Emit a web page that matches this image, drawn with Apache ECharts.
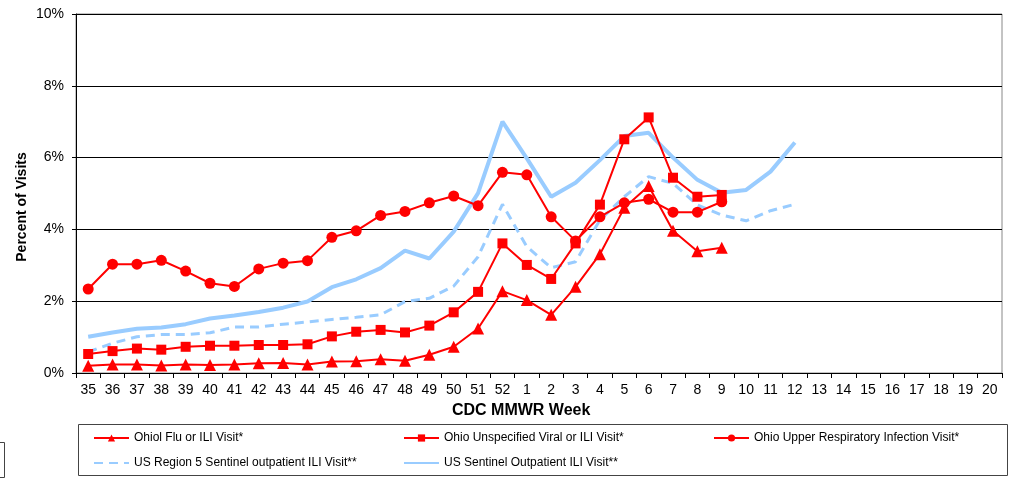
<!DOCTYPE html>
<html>
<head>
<meta charset="utf-8">
<script src="https://cdn.jsdelivr.net/npm/echarts@6/dist/echarts.min.js"></script>
<style>
  html, body { margin: 0; padding: 0; background: #fff; }
  #chart { width: 1012px; height: 479px; }
</style>
</head>
<body>
<div id="chart"></div>
<script>
const font = 'Arial, "Liberation Sans", sans-serif';

// CDC MMWR weeks (season runs 35 -> 52 -> 1 -> 20)
const weeks = ['35', '36', '37', '38', '39', '40', '41', '42', '43', '44', '45', '46', '47', '48', '49', '50', '51', '52',
    '1', '2', '3', '4', '5', '6', '7', '8', '9', '10', '11', '12', '13', '14', '15', '16', '17', '18', '19', '20'];

// percent of visits, weeks 35..9
const ohioFlu = [0.20, 0.24, 0.24, 0.21, 0.24, 0.22, 0.24, 0.27, 0.28, 0.24, 0.32, 0.33, 0.38, 0.34, 0.51, 0.73, 1.24, 2.28,
    2.03, 1.62, 2.40, 3.31, 4.60, 5.21, 3.96, 3.39, 3.49];
const ohioViral = [0.53, 0.61, 0.68, 0.65, 0.73, 0.76, 0.76, 0.78, 0.78, 0.80, 1.02, 1.15, 1.20, 1.13, 1.32, 1.69, 2.26, 3.61,
    3.01, 2.62, 3.61, 4.69, 6.51, 7.12, 5.44, 4.91, 4.96];
const ohioUpperResp = [2.34, 3.03, 3.03, 3.14, 2.84, 2.50, 2.41, 2.90, 3.06, 3.13, 3.78, 3.96, 4.39, 4.50, 4.74, 4.93, 4.66, 5.59,
    5.52, 4.35, 3.68, 4.35, 4.74, 4.84, 4.48, 4.48, 4.77];

// weeks 35..12
const usRegion5 = [0.59, 0.83, 1.01, 1.07, 1.07, 1.12, 1.28, 1.28, 1.36, 1.42, 1.49, 1.55, 1.62, 1.99, 2.08, 2.42, 3.24, 4.70,
    3.52, 2.93, 3.10, 4.26, 4.91, 5.47, 5.28, 4.68, 4.40, 4.24, 4.52, 4.70];
const usSentinel = [1.01, 1.13, 1.23, 1.27, 1.36, 1.52, 1.60, 1.70, 1.82, 1.99, 2.39, 2.61, 2.92, 3.41, 3.19, 3.94, 5.01, 7.00,
    5.98, 4.91, 5.30, 5.93, 6.60, 6.69, 6.00, 5.38, 5.02, 5.10, 5.61, 6.42];

const names = [
    'Ohiol Flu or ILI Visit*',
    'Ohio Unspecified Viral or ILI Visit*',
    'Ohio Upper Respiratory Infection Visit*',
    'US Region 5 Sentinel outpatient ILI Visit**',
    'US Sentinel Outpatient ILI Visit**'
];

const red = '#ff0000';
const blue = '#99ccff';

function legendAt(name, left, top, noMarker) {
    const item = noMarker
        ? { name: name, itemStyle: { opacity: 0 } }
        : { name: name };
    return {
        data: [item],
        left: left,
        top: top,
        padding: 0,
        itemWidth: 35,
        itemHeight: 9,
        selectedMode: false,
        textStyle: { fontFamily: font, fontSize: 12, color: '#000' }
    };
}

function redSeries(name, data, symbol, size) {
    return {
        name: name,
        type: 'line',
        data: data,
        symbol: symbol,
        symbolSize: size,
        showAllSymbol: true,
        z: 3,
        lineStyle: { color: red, width: 2 },
        itemStyle: { color: red }
    };
}

const option = {
    animation: false,
    grid: {
        left: 76,
        right: 10,
        top: 14,
        bottom: 106,
        show: true,
        borderColor: '#888',
        borderWidth: 1
    },
    legend: [
        legendAt(names[0], 93, 432),
        legendAt(names[1], 403, 432),
        legendAt(names[2], 713, 432),
        legendAt(names[3], 93, 457, true),
        legendAt(names[4], 403, 457, true)
    ],
    xAxis: {
        type: 'category',
        data: weeks,
        boundaryGap: true,
        axisLine: { lineStyle: { color: '#000', width: 1 } },
        axisTick: { show: true, length: 5, lineStyle: { color: '#000' } },
        axisLabel: { fontFamily: font, fontSize: 14, color: '#000', margin: 10, interval: 0 }
    },
    yAxis: {
        type: 'value',
        min: 0,
        max: 10,
        interval: 2,
        axisLine: { show: true, lineStyle: { color: '#000', width: 1 } },
        axisTick: { show: true, length: 4, lineStyle: { color: '#000' } },
        axisLabel: { fontFamily: font, fontSize: 14, color: '#000', margin: 12, formatter: '{value}%' },
        splitLine: { lineStyle: { color: '#000', width: 1 } }
    },
    graphic: [
        {
            type: 'text',
            left: 522 - 70,
            top: 403,
            style: { text: 'CDC MMWR Week', fontFamily: font, fontSize: 16, fontWeight: 'bold', fill: '#000', width: 140, align: 'center' }
        },
        {
            type: 'text',
            x: 22,
            y: 207,
            rotation: Math.PI / 2,
            style: { text: 'Percent of Visits', fontFamily: font, fontSize: 14, fontWeight: 'bold', fill: '#000', align: 'center', verticalAlign: 'middle' }
        },
        {
            type: 'rect',
            z: -10,
            shape: { x: 78.5, y: 424.5, width: 929, height: 51 },
            style: { fill: 'none', stroke: '#444', lineWidth: 1 }
        },
        {
            type: 'rect',
            shape: { x: -2.5, y: 442.5, width: 7, height: 35 },
            style: { fill: 'none', stroke: '#444', lineWidth: 1 }
        }
    ],
    series: [
        {
            name: names[4],
            type: 'line',
            data: usSentinel,
            symbol: 'none',
            z: 1,
            lineStyle: { color: blue, width: 4 },
            itemStyle: { color: blue }
        },
        {
            name: names[3],
            type: 'line',
            data: usRegion5,
            symbol: 'none',
            z: 1,
            lineStyle: { color: blue, width: 3, type: [9, 6] },
            itemStyle: { color: blue }
        },
        redSeries(names[0], ohioFlu, 'triangle', 12),
        redSeries(names[1], ohioViral, 'rect', 10),
        redSeries(names[2], ohioUpperResp, 'circle', 11)
    ]
};

const chart = echarts.init(document.getElementById('chart'), null, { renderer: 'canvas' });
chart.setOption(option);
</script>
</body>
</html>
